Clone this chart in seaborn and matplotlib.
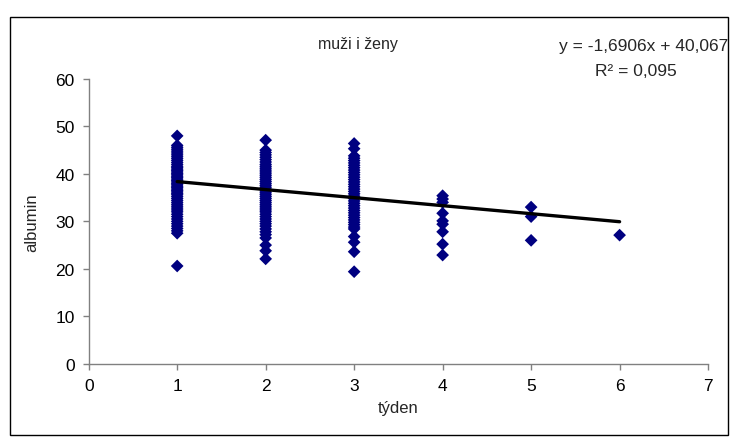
import matplotlib
matplotlib.use("Agg")
import matplotlib.pyplot as plt
import matplotlib.patches as mpatches
import pandas as pd
import seaborn as sns

# albumin values, grouped by week (tyden)
WEEK1 = [48.0, 46.0, 45.6, 45.2, 44.8, 44.4, 44.0, 43.6, 43.2, 42.8, 42.4, 42.0,
         41.6, 41.3, 41.0, 40.7, 40.4, 40.1, 39.8, 39.5, 39.2, 38.9, 38.6, 38.3,
         38.0, 37.7, 37.4, 37.1, 36.8, 36.5, 36.2, 35.9, 35.6, 35.2, 34.8, 34.4,
         34.0, 33.6, 33.2, 32.8, 32.4, 32.0, 31.5, 31.0, 30.5, 30.0, 29.5, 29.0,
         28.5, 28.0, 27.5, 20.6]
WEEK2 = [47.1, 45.0, 44.5, 44.0, 43.5, 43.0, 42.5, 42.0, 41.6, 41.2, 40.8, 40.4,
         40.0, 39.6, 39.2, 38.8, 38.4, 38.0, 37.6, 37.2, 36.8, 36.4, 36.0, 35.6,
         35.2, 34.8, 34.4, 34.0, 33.6, 33.2, 32.8, 32.4, 32.0, 31.5, 31.0, 30.5,
         30.0, 29.5, 29.0, 28.4, 27.8, 27.2, 26.5, 25.0, 23.8, 22.1]
WEEK3 = [46.4, 45.3, 43.8, 43.3, 42.8, 42.3, 41.8, 41.3, 40.8, 40.3, 39.8, 39.3,
         38.8, 38.3, 37.8, 37.3, 36.8, 36.3, 35.8, 35.3, 34.8, 34.3, 33.8, 33.3,
         32.8, 32.3, 31.8, 31.3, 30.8, 30.3, 29.8, 29.3, 28.8, 28.4, 26.8, 25.6,
         23.6, 19.4]
WEEK4 = [35.4, 34.7, 34.0, 31.7, 30.1, 29.4, 27.8, 25.2, 22.9]
WEEK5 = [33.0, 31.0, 26.0]
WEEK6 = [27.1]

# linear trend as reported in the chart
SLOPE = -1.6906
INTERCEPT = 40.067
R2 = 0.095

TITLE = "muži i ženy"
X_LABEL = "týden"
Y_LABEL = "albumin"


def main():
    groups = [WEEK1, WEEK2, WEEK3, WEEK4, WEEK5, WEEK6]
    rows = []
    for week, vals in enumerate(groups, start=1):
        for v in vals:
            rows.append({"tyden": week, "albumin": v})
    df = pd.DataFrame(rows)

    x0, x1 = df["tyden"].min(), df["tyden"].max()
    trend = pd.DataFrame({"tyden": [x0, x1]})
    trend["albumin"] = SLOPE * trend["tyden"] + INTERCEPT

    sns.set_theme(style="white")
    plt.rcParams["font.family"] = ["Liberation Sans", "DejaVu Sans"]

    fig = plt.figure(figsize=(7.33, 4.39), dpi=100)
    ax = fig.add_axes([0.121, 0.169, 0.845, 0.649])

    sns.scatterplot(data=df, x="tyden", y="albumin", marker="D", s=42,
                    color="#000080", edgecolor="none", ax=ax, zorder=2)
    sns.lineplot(data=trend, x="tyden", y="albumin", color="black",
                 linewidth=2.4, ax=ax, zorder=3)

    ax.set_xlim(0, 7)
    ax.set_ylim(0, 60)
    ax.set_xticks(range(0, 8))
    ax.set_yticks(range(0, 61, 10))
    for side in ["top", "right"]:
        ax.spines[side].set_visible(False)
    for side in ["left", "bottom"]:
        ax.spines[side].set_color("#808080")
        ax.spines[side].set_linewidth(1.0)
    ax.tick_params(axis="both", which="major", direction="out", length=4,
                   width=1, color="#808080", labelsize=12.5, labelcolor="black",
                   bottom=True, left=True, pad=6)
    ax.set_xlabel(X_LABEL, fontsize=12, labelpad=5)
    ax.set_ylabel(Y_LABEL, fontsize=12, labelpad=12)

    fig.text(358 / 733, 1 - 45 / 439, TITLE, ha="center", va="center",
             fontsize=11.5)
    eq = f"y = {SLOPE:.4f}x + {INTERCEPT:.3f}".replace(".", ",")
    fig.text(728 / 733, 1 - 47 / 439, eq, ha="right", va="center",
             fontsize=12.5)
    fig.text(636 / 733, 1 - 72 / 439, f"R² = {R2:.3f}".replace(".", ","),
             ha="center", va="center", fontsize=12.5)

    # chart-area frame
    fig.patches.append(mpatches.Rectangle(
        (10 / 733, 3 / 439), 718 / 733, 1 - 21 / 439,
        transform=fig.transFigure, fill=False, edgecolor="black",
        linewidth=1.0))

    fig.savefig("out.png", dpi=100)


if __name__ == "__main__":
    main()
